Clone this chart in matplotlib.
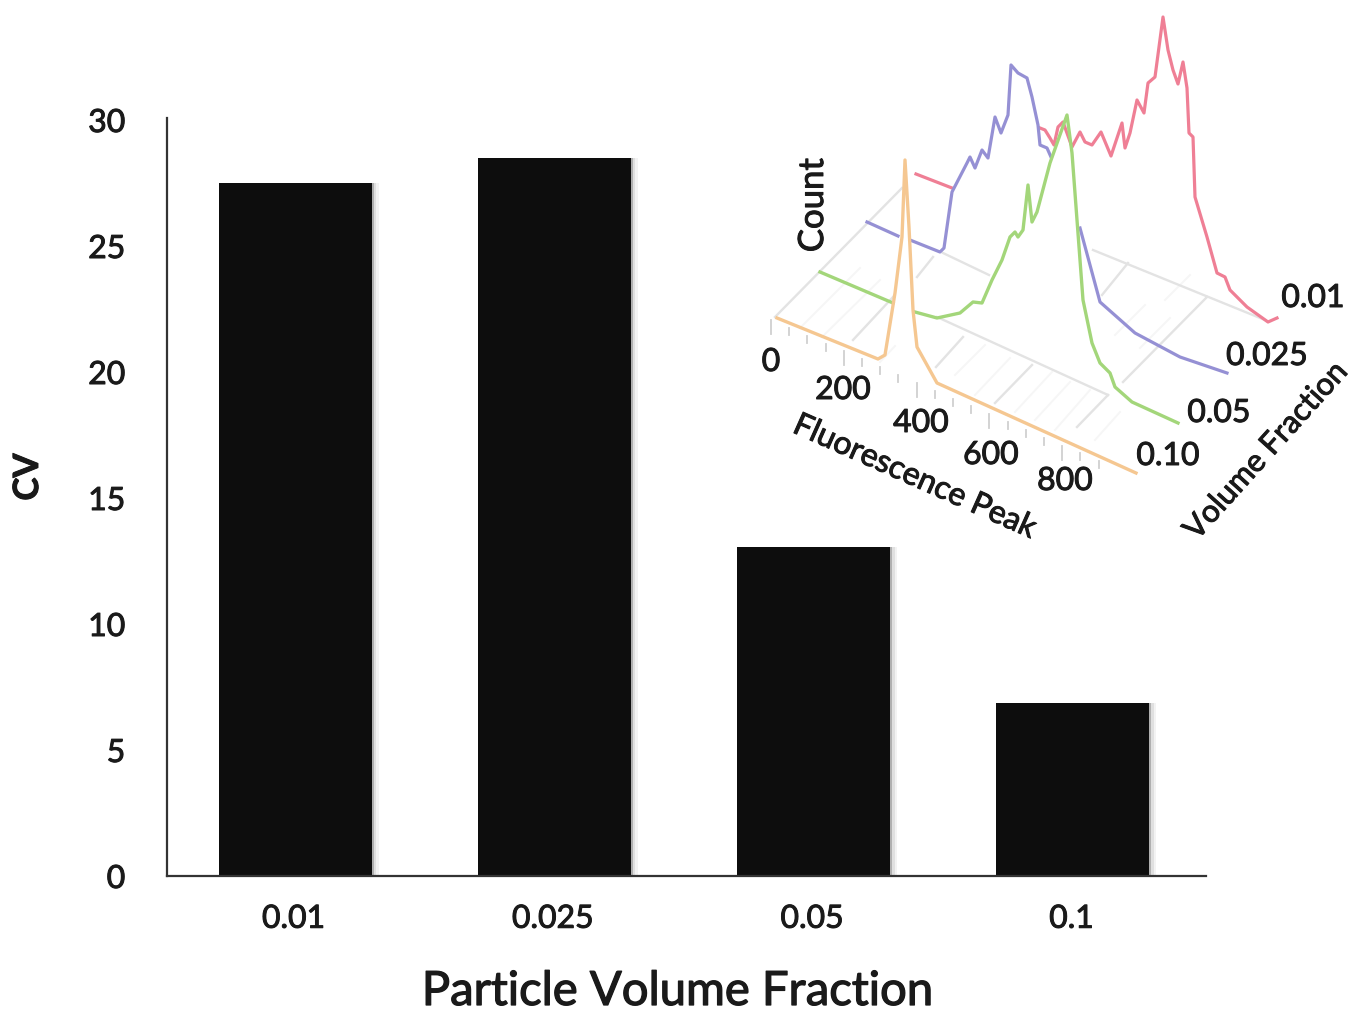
import numpy as np
import matplotlib
matplotlib.use('Agg')
import matplotlib.pyplot as plt
import matplotlib.patheffects as pe
from matplotlib.transforms import ScaledTranslation

plt.rcParams['font.family'] = ['Lato', 'DejaVu Sans']

# Main bar chart
fractions = ['0.01', '0.025', '0.05', '0.1']
cv_values = [27.5, 28.5, 13.05, 6.87]
cv_ticks = [0, 5, 10, 15, 20, 25, 30]

# Inset curves in image pixels
red_x = [[916, 952],
         [1040, 1045, 1050, 1054, 1058, 1063, 1072, 1080, 1085, 1092, 1101, 1111, 1122, 1125, 1130, 1137, 1144, 1148,
          1155, 1163, 1168, 1173, 1178, 1183, 1187, 1189, 1193, 1195, 1207, 1217, 1225, 1230, 1247, 1268, 1277]]
red_y = [[174, 188],
         [128, 130, 138, 145, 127, 122, 147, 132, 142, 145, 132, 156, 123, 148, 133, 100, 113, 83,
          77, 17, 50, 70, 84, 62, 88, 133, 137, 197, 237, 273, 277, 290, 307, 322, 318]]
blue_x = [[867, 898], [910, 940, 944, 952, 967, 970, 975, 982, 988, 995, 1001, 1008, 1011, 1018, 1027, 1032, 1038,
                       1040, 1047, 1051],
          [1080, 1100, 1135, 1180, 1227]]
blue_y = [[222, 236], [240, 252, 248, 192, 163, 157, 168, 150, 158, 117, 133, 115, 65, 73, 78, 97, 125,
                       145, 148, 157],
          [228, 302, 333, 357, 373]]
green_x = [[820, 893],
           [915, 937, 960, 973, 982, 992, 1002, 1010, 1015, 1018, 1023, 1028, 1032, 1037, 1050, 1067, 1072, 1077,
            1083, 1092, 1100, 1110, 1115, 1132, 1178]]
green_y = [[272, 303],
           [312, 318, 313, 302, 303, 280, 260, 237, 232, 237, 230, 185, 222, 212, 163, 115, 153, 220,
            300, 343, 363, 373, 387, 402, 423]]
orange_x = [777, 878, 885, 895, 902, 905, 909, 913, 917, 937, 1136]
orange_y = [318, 359, 355, 293, 237, 160, 227, 310, 347, 383, 473]

# Floor of the inset: visible parts of the grey lines, as x0, y0, x1, y1
floor_lines = [(775, 317, 902, 188), (853, 340, 893, 297), (917, 277, 933, 257), (936, 367, 963, 337),
               (995, 403, 1032, 365), (1077, 427, 1108, 395), (1123, 382, 1207, 297), (1102, 295, 1128, 263),
               (943, 253, 989, 275), (1093, 250, 1265, 320), (937, 317, 1108, 395)]
faint_lines = [(800, 328, 860, 268), (822, 337, 880, 280), (880, 362, 895, 346), (955, 375, 985, 345),
               (975, 395, 1010, 358), (1015, 412, 1052, 372), (1035, 420, 1070, 382), (1055, 430, 1090, 390),
               (1095, 440, 1120, 412), (1115, 335, 1145, 305), (1140, 348, 1170, 318), (1165, 300, 1190, 275)]

peak_ticks = ['0', '200', '400', '600', '800']
peak_tick_x = [771, 843, 921, 991, 1065]
peak_tick_y = [362, 390, 423, 455, 481]
volume_ticks = ['0.01', '0.025', '0.05', '0.10']
volume_tick_x = [1313, 1267, 1219, 1168]
volume_tick_y = [298, 356, 413, 456]

W, H = 1355, 1015
text_col = '#1a1a1a'
heavy = [pe.withStroke(linewidth=0.7, foreground=text_col)]

fig = plt.figure(figsize=(W / 100, H / 100), dpi=100)

ax = fig.add_axes([167 / W, 1 - 876 / H, (1206 - 167) / W, (876 - 118) / H])
pos = np.arange(len(fractions))
# soft edge on the right of the bars
for off, col in zip([7, 4.5, 2], ['#f3f3f3', '#e0e0e0', '#b0b0b0']):
    ax.bar(pos + off / 259.3, cv_values, width=0.59, color=col, zorder=1)
ax.bar(pos, cv_values, width=0.59, color='#0d0d0d', zorder=2)
ax.set_xlim(-0.494, 3.513)
ax.set_ylim(0, 30.08)
ax.set_xticks(pos, fractions)
ax.set_yticks(cv_ticks)
ax.tick_params(length=0, labelsize=23, colors=text_col)
ax.tick_params(axis='x', pad=20)
ax.tick_params(axis='y', pad=30)
shift = ScaledTranslation(-1.5 / 100, 0, fig.dpi_scale_trans)
for lab in ax.get_xticklabels():
    lab.set_transform(lab.get_transform() + shift)
    lab.set_path_effects(heavy)
for lab in ax.get_yticklabels():
    lab.set_path_effects(heavy)
for side in ['top', 'right']:
    ax.spines[side].set_visible(False)
for side in ['left', 'bottom']:
    ax.spines[side].set_linewidth(1.6)
    ax.spines[side].set_color('#333333')

fig.text(678 / W, 1 - 992 / H, 'Particle Volume Fraction', fontsize=34, color=text_col, ha='center', va='center',
         path_effects=[pe.withStroke(linewidth=0.9, foreground=text_col)])
fig.text(28 / W, 1 - 477 / H, 'CV', fontsize=25, fontweight='bold', color=text_col, rotation=90,
         ha='center', va='center', path_effects=heavy)

# Inset drawn in image pixel coordinates
inset = fig.add_axes([0, 0, 1, 1])
inset.set_xlim(0, W)
inset.set_ylim(H, 0)
inset.axis('off')
inset.patch.set_alpha(0)

for x0, y0, x1, y1 in faint_lines:
    inset.plot([x0, x1], [y0, y1], color='#f6f6f6', lw=1.4, zorder=1)
for x0, y0, x1, y1 in floor_lines:
    inset.plot([x0, x1], [y0, y1], color='#e3e3e3', lw=1.7, zorder=1)

# ticks on the front edge, every 50 in fluorescence
for i in range(19):
    tx = 771 + i * 18.2
    ty = 320 + i * 7.85
    inset.plot([tx, tx], [ty, ty + (14 if i % 4 == 0 else 7)], color='#d0d0d0', lw=1.3, zorder=1)

for xs, ys in zip(red_x, red_y):
    inset.plot(xs, ys, color='#ef7f95', lw=2.3, zorder=2)
for xs, ys in zip(blue_x, blue_y):
    inset.plot(xs, ys, color='#9590d4', lw=2.3, zorder=3)
for xs, ys in zip(green_x, green_y):
    inset.plot(xs, ys, color='#a3d67a', lw=2.4, zorder=4)
inset.plot(orange_x, orange_y, color='#f5c791', lw=2.4, zorder=5)

for lab, x, y in zip(peak_ticks, peak_tick_x, peak_tick_y):
    inset.text(x, y, lab, fontsize=23, color=text_col, ha='center', va='center', path_effects=heavy)
for lab, x, y in zip(volume_ticks, volume_tick_x, volume_tick_y):
    inset.text(x, y, lab, fontsize=23, color=text_col, ha='center', va='center', path_effects=heavy)

inset.text(915, 477, 'Fluorescence Peak', fontsize=23, color=text_col, rotation=-24, rotation_mode='anchor',
           ha='center', va='center', path_effects=heavy)
inset.text(1266, 451, 'Volume Fraction', fontsize=22.5, color=text_col, rotation=48, rotation_mode='anchor',
           ha='center', va='center', path_effects=heavy)
inset.text(813, 205, 'Count', fontsize=25, color=text_col, rotation=90, ha='center', va='center', path_effects=heavy)

fig.savefig('out.png', dpi=100)
